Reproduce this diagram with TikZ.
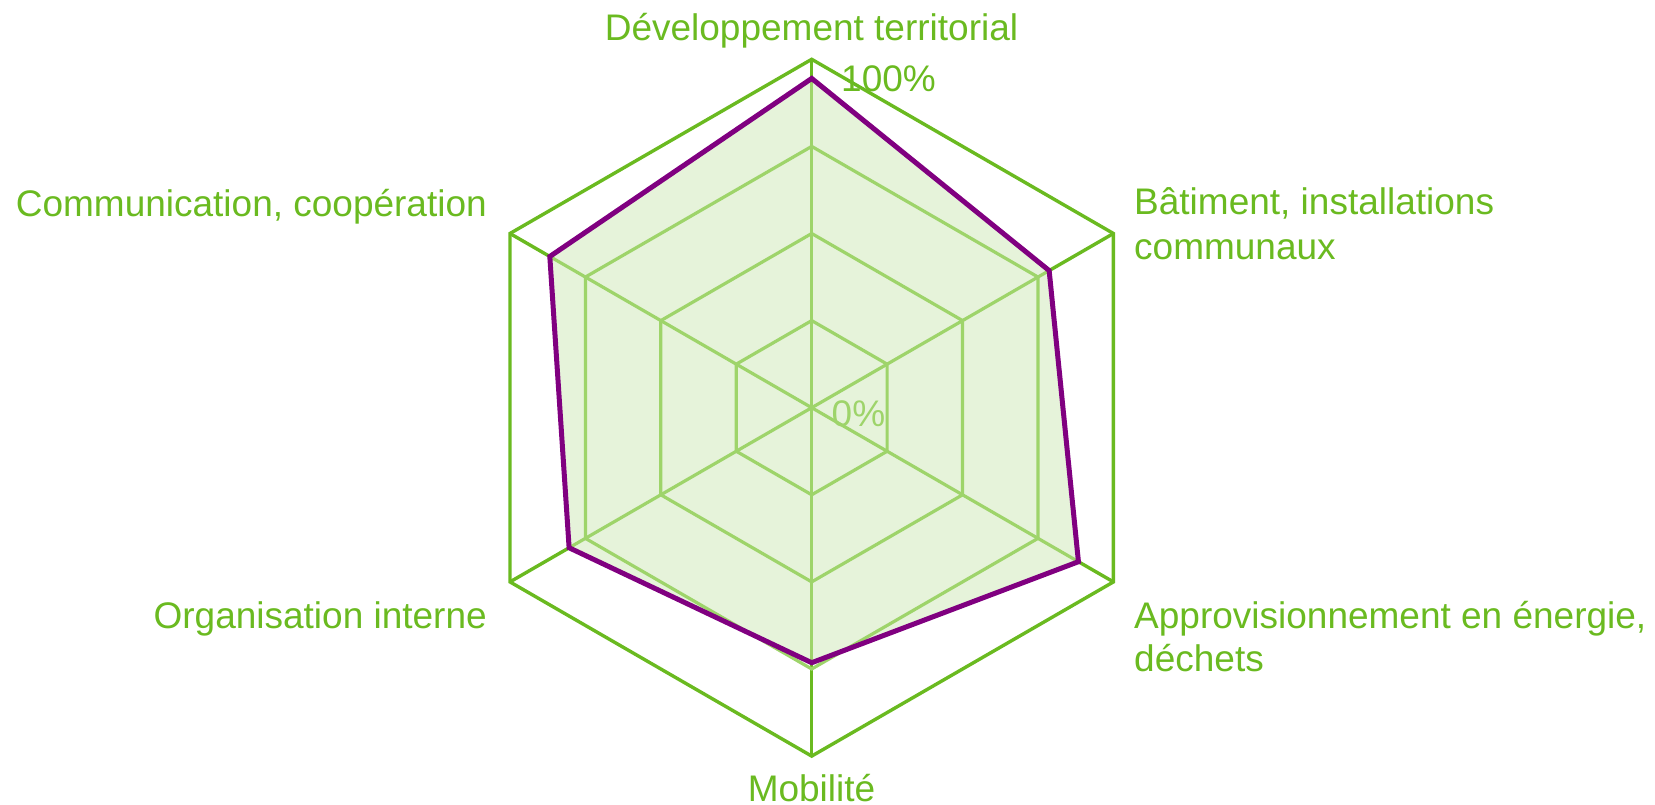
\documentclass[tikz,border=0pt]{standalone}
\usepackage{fontspec}
\setmainfont{Liberation Sans}
\definecolor{dkgreen}{RGB}{106,186,32}
\definecolor{ltgreen}{RGB}{158,212,106}
\definecolor{fillgreen}{RGB}{230,243,218}
\definecolor{violet}{RGB}{128,0,128}
\begin{document}
\begin{tikzpicture}[x=1pt,y=1pt,
  lbl/.style={text=dkgreen, font=\fontsize{37}{44}\selectfont, inner sep=0pt},
  outerline/.style={draw=dkgreen, line width=3.4pt, line join=miter},
  gridline/.style={draw=ltgreen, line width=3.2pt},
  serie/.style={draw=violet, line width=5pt, line join=miter}]
\useasboundingbox (0,0) rectangle (1655,-805);
\begin{scope}[shift={(811.7,-407.7)}]
  \def\R{348.4}
  \coordinate (O) at (0,0);
  % outer vertices
  \coordinate (d1) at (90:\R);
  \coordinate (b1) at (30:\R);
  \coordinate (a1) at (-30:\R);
  \coordinate (m1) at (-90:\R);
  \coordinate (o1) at (-150:\R);
  \coordinate (c1) at (150:\R);
  % series vertices
  \coordinate (dv) at (90:0.945*\R);
  \coordinate (bv) at (30:0.787*\R);
  \coordinate (av) at (-30:0.884*\R);
  \coordinate (mv) at (-90:0.732*\R);
  \coordinate (ov) at (-150:0.804*\R);
  \coordinate (cv) at (150:0.868*\R);
  % spokes (dark)
  \foreach \n in {d1,b1,a1,m1,o1,c1} \draw[outerline] (O) -- (\n);
  % fill of series
  \fill[fillgreen] (dv) -- (bv) -- (av) -- (mv) -- (ov) -- (cv) -- cycle;
  % spokes (light) inside the series area
  \begin{scope}
    \clip (dv) -- (bv) -- (av) -- (mv) -- (ov) -- (cv) -- cycle;
    \foreach \n in {d1,b1,a1,m1,o1,c1} \draw[gridline] (O) -- (\n);
  \end{scope}
  % inner rings
  \foreach \f in {0.25,0.5,0.75}
    \draw[gridline] (90:\f*\R) -- (30:\f*\R) -- (-30:\f*\R) -- (-90:\f*\R) -- (-150:\f*\R) -- (150:\f*\R) -- cycle;
  % outer ring
  \draw[outerline] (d1) -- (b1) -- (a1) -- (m1) -- (o1) -- (c1) -- cycle;
  % series outline
  \draw[serie] (dv) -- (bv) -- (av) -- (mv) -- (ov) -- (cv) -- cycle;
\end{scope}
% axis value labels
\node[lbl, anchor=base west] (t100) at (841,-91.5) {100\%};
\node[lbl, anchor=base west, text=ltgreen] (t0) at (831.5,-426) {0\%};
% category labels
\node[lbl, anchor=base] (ldev) at (811.5,-40.7) {Développement territorial};
\node[lbl, anchor=base west] (lbat1) at (1134,-215) {Bâtiment, installations};
\node[lbl, anchor=base west] (lbat2) at (1134,-260) {communaux};
\node[lbl, anchor=base west] (lapp1) at (1134,-628.3) {Approvisionnement en énergie,};
\node[lbl, anchor=base west] (lapp2) at (1134,-671.7) {déchets};
\node[lbl, anchor=base] (lmob) at (811.5,-801.5) {Mobilité};
\node[lbl, anchor=base east] (lorg) at (487,-628) {Organisation interne};
\node[lbl, anchor=base east] (lcom) at (487,-216.7) {Communication, coopération};
\end{tikzpicture}
\end{document}
